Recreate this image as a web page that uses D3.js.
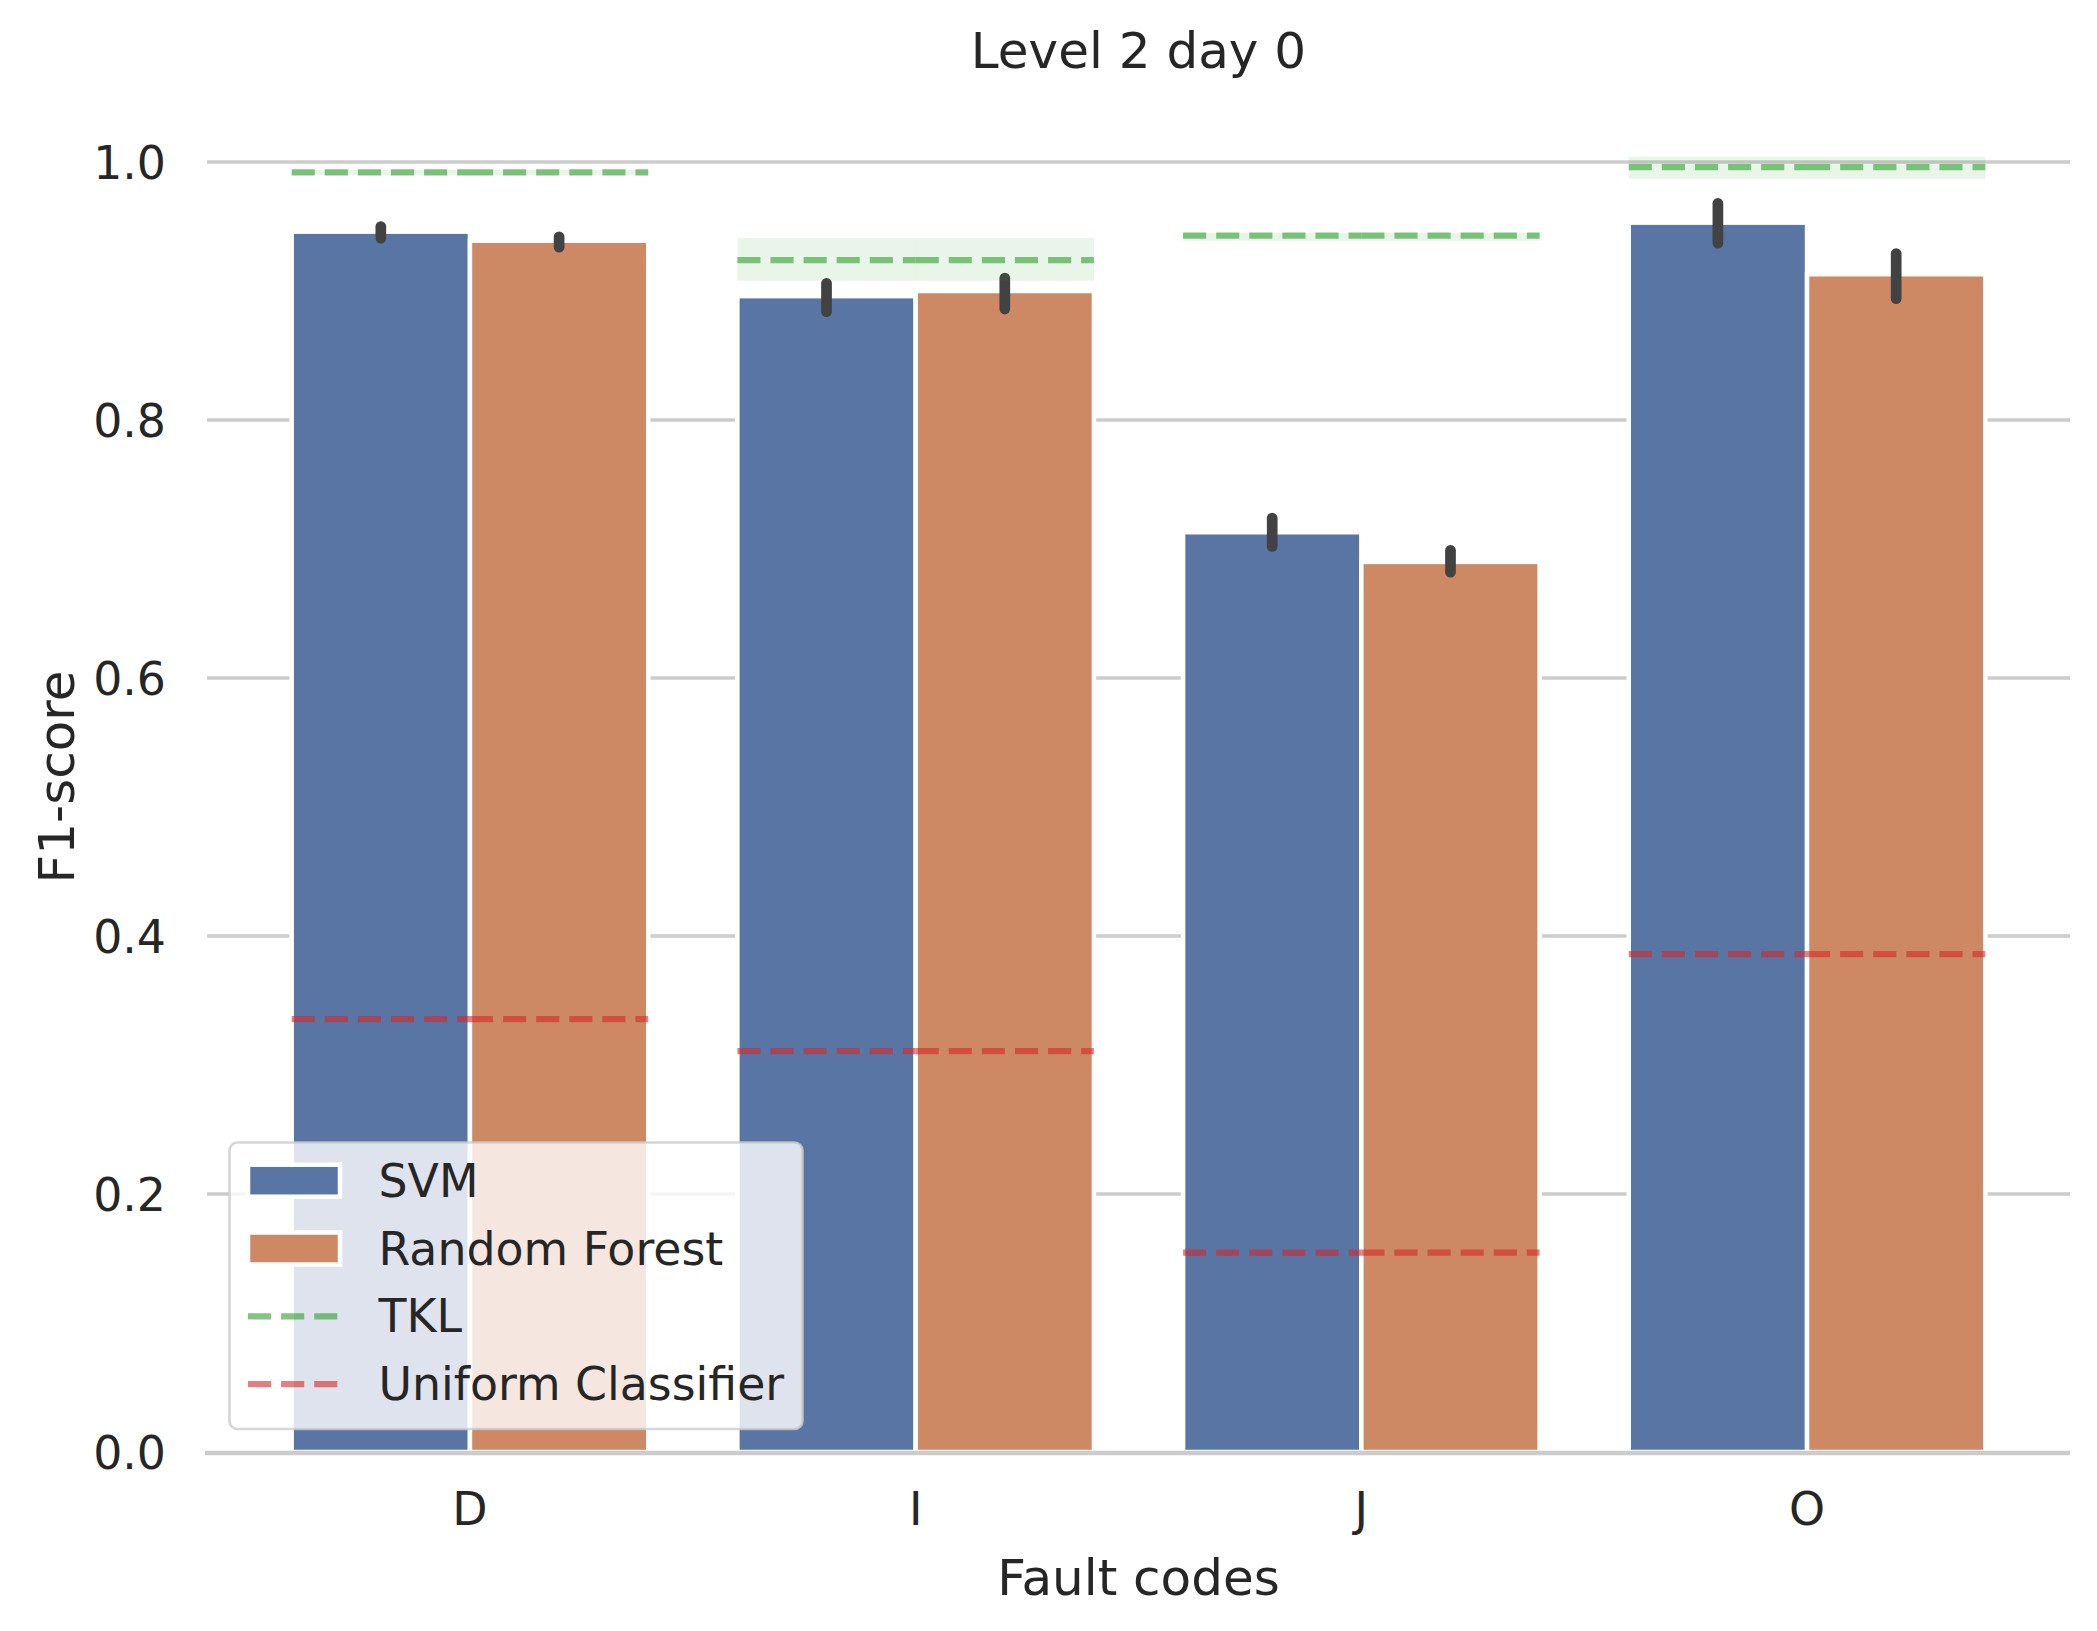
<!DOCTYPE html>
<html>
<head>
<meta charset="utf-8">
<script src="https://cdn.jsdelivr.net/npm/d3@7"></script>
<style>
  html, body { margin: 0; padding: 0; background: #ffffff; }
  svg text { font-family: "DejaVu Sans", sans-serif; fill: #262626; }
</style>
</head>
<body>
<div id="chart"></div>
<script>
// Data
var categories = ["D", "I", "J", "O"];
var models = ["SVM", "Random Forest"];
var svmMean = [0.946, 0.896, 0.713, 0.953];
var svmLow  = [0.941, 0.884, 0.702, 0.937];
var svmHigh = [0.950, 0.906, 0.724, 0.968];
var rfMean  = [0.939, 0.900, 0.690, 0.913];
var rfLow   = [0.934, 0.886, 0.682, 0.894];
var rfHigh  = [0.942, 0.910, 0.699, 0.929];
var tklMean = [0.992, 0.924, 0.943, 0.996];
var tklLow  = [0.990, 0.908, 0.939, 0.987];
var tklHigh = [0.994, 0.941, 0.945, 1.004];
var uniform = [0.3355, 0.3108, 0.1546, 0.386];
var yTicks  = [0, 0.2, 0.4, 0.6, 0.8, 1.0];

var width = 2097, height = 1631;
var left = 207, right = 2070;
var tickSize = 45.8, labelSize = 50;

var svg = d3.select('#chart').append('svg')
    .attr('width', width)
    .attr('height', height)
    .style('display', 'block');

var x = d3.scaleLinear().domain([-0.59, 3.59]).range([left, right]);
var y = d3.scaleLinear().domain([0, 1]).range([1452, 162]);

var barColor = ["#5975a4", "#cc8963"];
var green = "#2ca02c", red = "#d62728";
var dash = "23.1 10";

// one row per bar, hue offset within the category
var bars = [];
categories.forEach(function(c, i) {
  bars.push({cat: i, hue: 0, mean: svmMean[i], lo: svmLow[i], hi: svmHigh[i]});
  bars.push({cat: i, hue: 1, mean: rfMean[i], lo: rfLow[i], hi: rfHigh[i]});
});
var barStart = function(d) { return d.cat - 0.4 + d.hue * 0.4; };

// grid
svg.append('g').selectAll('line')
  .data(yTicks.filter(function(t) { return t > 0; }))
  .join('line')
    .attr('x1', left).attr('x2', right)
    .attr('y1', function(d) { return y(d); })
    .attr('y2', function(d) { return y(d); })
    .attr('stroke', '#cccccc')
    .attr('stroke-width', 3.5);

// bars
svg.append('g').selectAll('rect')
  .data(bars)
  .join('rect')
    .attr('x', function(d) { return x(barStart(d)); })
    .attr('width', function(d) { return x(barStart(d) + 0.4) - x(barStart(d)); })
    .attr('y', function(d) { return y(d.mean); })
    .attr('height', function(d) { return y(0) - y(d.mean); })
    .attr('fill', function(d) { return barColor[d.hue]; })
    .attr('stroke', '#ffffff')
    .attr('stroke-width', 4.5);

// error bars
svg.append('g').selectAll('line')
  .data(bars)
  .join('line')
    .attr('x1', function(d) { return x(barStart(d) + 0.2); })
    .attr('x2', function(d) { return x(barStart(d) + 0.2); })
    .attr('y1', function(d) { return y(d.lo); })
    .attr('y2', function(d) { return y(d.hi); })
    .attr('stroke', '#424242')
    .attr('stroke-width', 10.7)
    .attr('stroke-linecap', 'round');

// TKL band and reference lines, one segment per bar
svg.append('g').selectAll('rect')
  .data(bars)
  .join('rect')
    .attr('x', function(d) { return x(barStart(d)); })
    .attr('width', function(d) { return x(barStart(d) + 0.4) - x(barStart(d)); })
    .attr('y', function(d) { return y(tklHigh[d.cat]); })
    .attr('height', function(d) { return y(tklLow[d.cat]) - y(tklHigh[d.cat]); })
    .attr('fill', green)
    .attr('fill-opacity', 0.1);

function refLines(values, color) {
  svg.append('g').selectAll('line')
    .data(bars)
    .join('line')
      .attr('x1', function(d) { return x(barStart(d)); })
      .attr('x2', function(d) { return x(barStart(d) + 0.4); })
      .attr('y1', function(d) { return y(values[d.cat]); })
      .attr('y2', function(d) { return y(values[d.cat]); })
      .attr('stroke', color)
      .attr('stroke-opacity', 0.6)
      .attr('stroke-width', 6.2)
      .attr('stroke-dasharray', dash);
}
refLines(tklMean, green);
refLines(uniform, red);

// bottom spine
svg.append('line')
  .attr('x1', 205).attr('x2', right)
  .attr('y1', y(0) + 1).attr('y2', y(0) + 1)
  .attr('stroke', '#cccccc')
  .attr('stroke-width', 4.5);

// y tick labels
svg.append('g').selectAll('text')
  .data(yTicks)
  .join('text')
    .attr('x', 166)
    .attr('y', function(d) { return y(d) + tickSize * 0.729 / 2; })
    .attr('text-anchor', 'end')
    .style('font-size', tickSize + 'px')
    .text(function(d) { return d3.format('.1f')(d); });

// x tick labels
svg.append('g').selectAll('text')
  .data(categories)
  .join('text')
    .attr('x', function(d, i) { return x(i); })
    .attr('y', 1525)
    .attr('text-anchor', 'middle')
    .style('font-size', tickSize + 'px')
    .text(function(d) { return d; });

// titles
svg.append('text')
  .attr('x', (left + right) / 2).attr('y', 68)
  .attr('text-anchor', 'middle')
  .style('font-size', labelSize + 'px')
  .text('Level 2 day 0');

svg.append('text')
  .attr('x', (left + right) / 2).attr('y', 1595)
  .attr('text-anchor', 'middle')
  .style('font-size', labelSize + 'px')
  .text('Fault codes');

svg.append('text')
  .attr('transform', 'translate(73.5,777) rotate(-90)')
  .attr('text-anchor', 'middle')
  .style('font-size', labelSize + 'px')
  .text('F1-score');

// legend
var legend = svg.append('g');
legend.append('rect')
  .attr('x', 229.5).attr('y', 1142.5)
  .attr('width', 573).attr('height', 286.5)
  .attr('rx', 8).attr('ry', 8)
  .attr('fill', '#ffffff').attr('fill-opacity', 0.8)
  .attr('stroke', '#cccccc').attr('stroke-opacity', 0.8)
  .attr('stroke-width', 2.7);

var legendItems = [
  {label: models[0], kind: 'patch', color: barColor[0]},
  {label: models[1], kind: 'patch', color: barColor[1]},
  {label: 'TKL', kind: 'line', color: green},
  {label: 'Uniform Classifier', kind: 'line', color: red}
];

legendItems.forEach(function(item, i) {
  var base = 1196.7 + i * 67.8;
  var cy = base - 16;
  if (item.kind === 'patch') {
    legend.append('rect')
      .attr('x', 248).attr('y', cy - 16)
      .attr('width', 92).attr('height', 32)
      .attr('fill', item.color)
      .attr('stroke', '#ffffff')
      .attr('stroke-width', 4.5);
  } else {
    legend.append('line')
      .attr('x1', 248).attr('x2', 338)
      .attr('y1', cy).attr('y2', cy)
      .attr('stroke', item.color)
      .attr('stroke-opacity', 0.6)
      .attr('stroke-width', 6.2)
      .attr('stroke-dasharray', dash);
  }
  legend.append('text')
    .attr('x', 378.5).attr('y', base)
    .style('font-size', tickSize + 'px')
    .text(item.label);
});
</script>
</body>
</html>
